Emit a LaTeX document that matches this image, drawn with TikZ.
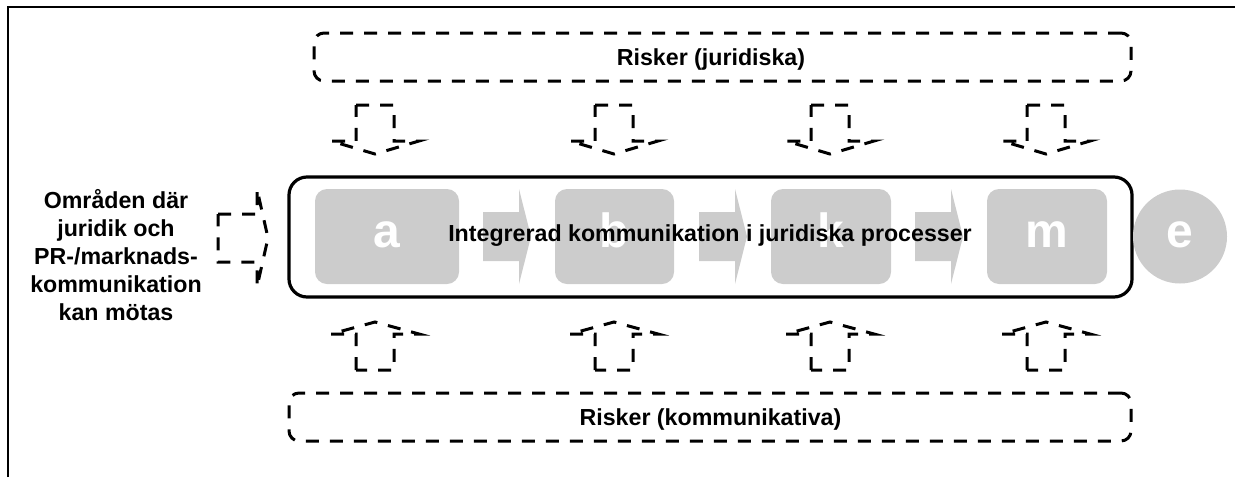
\documentclass[tikz,border=0pt]{standalone}
\usepackage{fontspec}
\setmainfont{Liberation Sans}
\definecolor{boxgray}{RGB}{204,204,204}
\begin{document}
\begin{tikzpicture}[x=0.5pt,y=-0.5pt,
  dsh/.style={line width=1.5pt, dash pattern=on 6.5pt off 5.5pt},
  lbl/.style={inner sep=0pt, font=\fontsize{11.6}{13.9}\selectfont\bfseries},
  graybox/.style={fill=boxgray, rounded corners=6pt, inner sep=0pt, minimum height=47.5pt,
    text=white, font=\fontsize{24}{24}\selectfont\bfseries, text height=10.5pt, text depth=0pt},
  riskbox/.style={draw, dsh, rounded corners=5pt, inner sep=0pt, minimum height=24pt},
  grayarrow/.style={fill=boxgray}
]
\useasboundingbox (0,0) rectangle (1235,477);
% outer frame
\draw[line width=1pt] (8,477) -- (8,7) -- (1235,7);

% main process box
\node[draw, line width=1.6pt, rounded corners=9pt, inner sep=0pt,
      minimum width=421.5pt, minimum height=60pt] (proc) at (710.5,237) {};

% gray steps
\node[graybox, minimum width=72pt] (a) at (387,236.5) {a};
\node[graybox, minimum width=59.5pt] (b) at (614.5,236.5) {b};
\node[graybox, minimum width=60pt] (k) at (831,236.5) {k};
\node[graybox, minimum width=60pt] (m) at (1047,236.5) {m};
\node[graybox, circle, minimum size=47pt] (e) at (1180,236.5) {e};

% gray block arrows
\foreach \x in {483,699,915} {
  \fill[grayarrow] (\x,212) -- (\x+36,212) -- (\x+36,189) -- (\x+48,236.5)
     -- (\x+36,284) -- (\x+36,261) -- (\x,261) -- cycle;
}

% main label
\node[lbl, anchor=base] (proct) at (710,241) {Integrerad kommunikation i juridiska processer};

% risk boxes
\node[riskbox, minimum width=408.5pt] (rj) at (722.5,57) {};
\node[lbl, anchor=base] (rjt) at (711,65) {Risker (juridiska)};
\node[riskbox, minimum width=421pt] (rk) at (710,417) {};
\node[lbl, anchor=base] (rkt) at (710.5,425) {Risker (kommunikativa)};

% dashed block arrows
\foreach \c in {375,614,830,1046} {
  \draw[dsh] (\c-19,105) -- (\c+19,105) -- (\c+19,141) -- (\c+44,141) -- (\c,154)
     -- (\c-44,141) -- (\c-19,141) -- cycle;
  \draw[dsh] (\c-19,370) -- (\c-19,334) -- (\c-44,334) -- (\c,322)
     -- (\c+44,334) -- (\c+19,334) -- (\c+19,370) -- cycle;
}

% left label and arrow
\node[lbl, align=center] (lt) at (116,255)
  {Områden där\\juridik och\\PR-/marknads-\\kommunikation\\kan mötas};
\draw[dsh] (218,214) -- (257,214) -- (257,189) -- (268,238) -- (257,287)
   -- (257,262) -- (218,262) -- cycle;
\end{tikzpicture}
\end{document}
